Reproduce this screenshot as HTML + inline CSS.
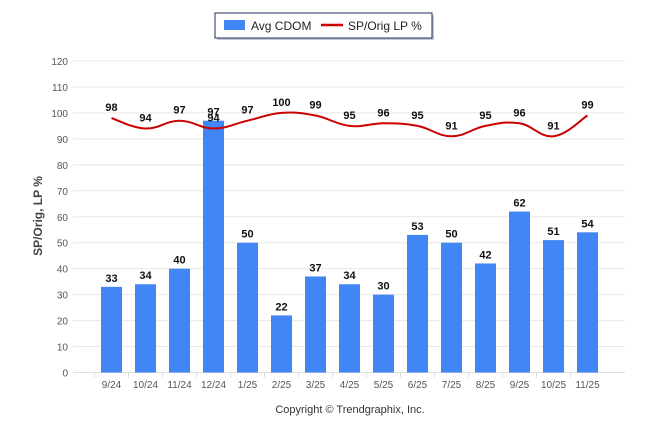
<!DOCTYPE html>
<html><head><meta charset="utf-8"><style>
body{margin:0;background:#fff;font-family:"Liberation Sans",Arial,sans-serif}
svg text{font-family:"Liberation Sans",Arial,sans-serif}
</style></head><body>
<svg id="c" width="646" height="434">
<g>
<rect x="217" y="15" width="217" height="25" fill="#9aa3b5" opacity="0.6"/>
<rect x="215" y="13" width="217" height="25" fill="#fff" stroke="#1c2e5a" stroke-width="1"/>
<rect x="224" y="20" width="21" height="10" fill="#4285f4"/>
<text x="251" y="30" font-size="12" fill="#222">Avg CDOM</text>
<line x1="321" y1="25" x2="343" y2="25" stroke="#cc0000" stroke-width="2.5"/>
<text x="348" y="30" font-size="12" fill="#222">SP/Orig LP %</text>
</g>
<text transform="translate(42,216) rotate(-90)" text-anchor="middle" font-size="12" font-weight="bold" fill="#444">SP/Orig, LP %</text>
<g id="grid"></g><g id="bars"></g><g id="line"></g><g id="labels"></g>
<text x="350" y="413" text-anchor="middle" font-size="11" fill="#333">Copyright © Trendgraphix, Inc.</text>
</svg>
<script>
const categories=["9/24","10/24","11/24","12/24","1/25","2/25","3/25","4/25","5/25","6/25","7/25","8/25","9/25","10/25","11/25"];
const cdom=[33,34,40,97,50,22,37,34,30,53,50,42,62,51,54];
const spOrig=[98,94,97,94,97,100,99,95,96,95,91,95,96,91,99];
const yTicks=[0,10,20,30,40,50,60,70,80,90,100,110,120];
const NS="http://www.w3.org/2000/svg";
const y0=372.5,yTop=61,yMax=120;
function yS(v){return y0-(v/yMax)*(y0-yTop);}
function xS(i){return 111.5+i*34;}
function mk(t,a,p){const e=document.createElementNS(NS,t);for(const k in a)e.setAttribute(k,a[k]);document.getElementById(p).appendChild(e);return e;}
yTicks.forEach(v=>{
  const l=mk('line',{x1:73,x2:625,y1:yS(v),y2:yS(v),stroke:v===0?'#ddd':'#e8e8e8','stroke-width':1},'grid');
  
  
  const t=mk('text',{x:68,y:yS(v)+4,'text-anchor':'end','font-size':10,fill:'#555'},'grid');
  t.textContent=v;
  
  
});
categories.forEach((c,i)=>{
  const t=mk('text',{x:xS(i),y:388,'text-anchor':'middle','font-size':10,fill:'#555'},'grid');
  t.textContent=c;
  
  
  const tk=mk('line',{x1:xS(i)-17,x2:xS(i)-17,y1:y0,y2:y0+5,stroke:'#ddd'},'grid');
  
  
});
cdom.forEach((v,i)=>{
  const b=mk('rect',{x:xS(i)-10.5,y:yS(v),width:21,height:y0-yS(v),fill:'#4285f4'},'bars');
  
  
  const t=mk('text',{x:xS(i),y:yS(v)-5,'text-anchor':'middle','font-size':11,'font-weight':'bold',fill:'#111'},'labels');
  t.textContent=v;
  
  
});
const pts=spOrig.map((v,i)=>[xS(i),yS(v)]);
let d='M'+pts[0][0]+','+pts[0][1];
for(let i=0;i<pts.length-1;i++){
  const p0=pts[Math.max(0,i-1)],p1=pts[i],p2=pts[i+1],p3=pts[Math.min(pts.length-1,i+2)];
  const k=0.2;
  d+=` C${p1[0]+(p2[0]-p0[0])*k},${p1[1]+(p2[1]-p0[1])*k} ${p2[0]-(p3[0]-p1[0])*k},${p2[1]-(p3[1]-p1[1])*k} ${p2[0]},${p2[1]}`;
}
const ln=mk('path',{d:d,fill:'none',stroke:'#cc0000','stroke-width':2},'line');


spOrig.forEach((v,i)=>{
  const t=mk('text',{x:xS(i),y:yS(v)-7,'text-anchor':'middle','font-size':11,'font-weight':'bold',fill:'#111'},'labels');
  t.textContent=v;
  
  
});
</script>
</body></html>
